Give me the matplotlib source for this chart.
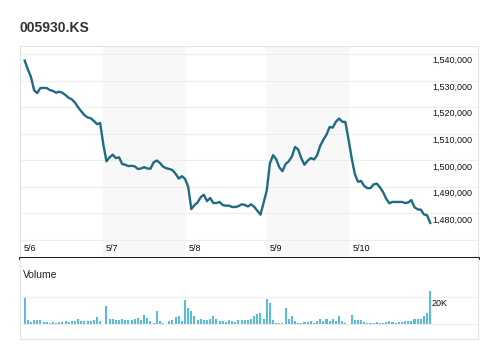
import matplotlib
matplotlib.use("Agg")
import matplotlib.pyplot as plt
import matplotlib.transforms as mtransforms
import numpy as np

plt.rcParams['font.family'] = ['Liberation Sans', 'DejaVu Sans']

# --- data (15-min style intraday slots, 5 trading days) ---
ticker = "005930.KS"
day_labels = ["5/6", "5/7", "5/8", "5/9", "5/10"]
day_starts = [-1.2, 24.9, 51.3, 76.8, 103.2]   # slot index where each day begins
day_end = 129.9

price = [
    1537500, 1534200, 1531300, 1526300, 1525300, 1527200, 1527200, 1527200, 1526400, 1526100,
    1525400, 1525800, 1525400, 1524500, 1523500, 1522900, 1521700, 1519900, 1518400, 1517000,
    1516100, 1515800, 1514800, 1513600, 1514000, 1506000, 1499600, 1501100, 1502100, 1500800,
    1501100, 1498600, 1498300, 1497800, 1497900, 1497700, 1496700, 1496900, 1497400, 1496900,
    1496800, 1499200, 1499900, 1499000, 1497600, 1497000, 1496700, 1496300, 1494900, 1493100,
    1494000, 1493000, 1490000, 1481600, 1483100, 1484100, 1486100, 1487000, 1484600, 1485800,
    1483900, 1483900, 1484300, 1483100, 1482900, 1482900, 1482400, 1482400, 1482700, 1483400,
    1483200, 1482600, 1483400, 1482500, 1481000, 1479500, 1484000, 1488600, 1498800, 1501900,
    1500400, 1497300, 1495900, 1498600, 1499600, 1501400, 1505000, 1504000, 1500700, 1498300,
    1499800, 1500800, 1500300, 1501800, 1505400, 1507700, 1509600, 1512500, 1512300, 1514500,
    1515700, 1514500, 1514400, 1507900, 1500900, 1494900, 1491900, 1492200, 1490300, 1489500,
    1489500, 1490900, 1491200, 1489800, 1488000, 1485500, 1483800, 1484300, 1484300, 1484300,
    1484300, 1483900, 1484100, 1485000, 1482300, 1481500, 1481400, 1479600, 1479300, 1476400,
]

volume = [
    19100, 3100, 1900, 3100, 3100, 3100, 1700, 1500, 1000, 1500,
    1000, 1500, 1500, 2200, 1700, 2200, 2200, 3600, 2200, 2400,
    2400, 2400, 3400, 5600, 2200, 0, 13300, 3600, 4100, 3100,
    2900, 3600, 2900, 3400, 2900, 3600, 4800, 2900, 6500, 4800,
    2400, 1000, 9700, 2200, 1200, 500, 2400, 3100, 5300, 6000,
    2700, 17600, 11800, 9900, 6000, 3100, 4100, 2900, 3100, 4100,
    6000, 3600, 2200, 2700, 1900, 3100, 2700, 1900, 3100, 3100,
    3100, 3100, 3600, 6000, 7500, 8500, 3600, 18600, 15200, 3100,
    1200, 1200, 1200, 11800, 4100, 6000, 2200, 1200, 1200, 1700,
    1700, 2200, 1200, 2200, 3600, 2700, 3600, 2200, 3600, 2700,
    6000, 2200, 1200, 0, 6500, 3100, 3100, 3100, 1700, 1200,
    1200, 700, 1700, 1200, 1200, 1700, 2200, 1700, 1200, 1900,
    1900, 2700, 2200, 2700, 4100, 4100, 4100, 6000, 8000, 24400,
]

price_ticks = [1540000, 1530000, 1520000, 1510000, 1500000, 1490000, 1480000, 1470000]
price_labels = ["1,540,000", "1,530,000", "1,520,000", "1,510,000",
                "1,500,000", "1,490,000", "1,480,000"]
vol_ticks = [0, 20000]

slots = np.arange(len(price))

W, H = 497, 359
fig = plt.figure(figsize=(W / 100, H / 100), dpi=100)
fig.patch.set_facecolor("white")

line_col = "#1f6b84"
bar_col = "#56bde0"
grid_col = "#ededed"
frame_col = "#e3e3e3"
xlim = (-1.5, 144.2)

# price panel
ax = fig.add_axes([20 / W, (H - 258) / H, 458 / W, (258 - 46) / H])
ax.set_xlim(*xlim)
ax.set_ylim(1463200, 1543000)
for i in (1, 3):
    ax.axvspan(day_starts[i], day_starts[i + 1], color="#f8f8f8", lw=0, zorder=0)
for t in price_ticks:
    ax.axhline(t, color=grid_col, lw=0.8, zorder=1)
ax.plot(slots, price, color=line_col, lw=1.7, zorder=3, solid_joinstyle="round")

trans = mtransforms.blended_transform_factory(ax.transAxes, ax.transData)
for t, lab in zip(price_ticks, price_labels):
    ax.annotate(lab, xy=(0.987, t), xycoords=trans, xytext=(0, -1.5),
                textcoords="offset points", ha="right", va="top",
                fontsize=6.5, color="#111111")

trans_d = mtransforms.blended_transform_factory(ax.transData, ax.transAxes)
for d, lab in zip(day_starts, day_labels):
    ax.text(d + 1.0, 0.047, lab, transform=trans_d, ha="left", va="center",
            fontsize=6.5, color="#111111")

ax.set_xticks([])
ax.set_yticks([])
for s in ("left", "right", "top"):
    ax.spines[s].set_color(frame_col)
    ax.spines[s].set_linewidth(0.8)
ax.spines["bottom"].set_color("black")
ax.spines["bottom"].set_linewidth(2.0)
ax.spines["bottom"].set_zorder(5)

# volume panel
vax = fig.add_axes([20 / W, (H - 339) / H, 458 / W, (339 - 258) / H])
vax.set_xlim(*xlim)
vax.set_ylim(-10650, 48040)
for t in vol_ticks:
    vax.axhline(t, color=grid_col, lw=0.8, zorder=1)
vax.bar(slots, volume, width=0.65, color=bar_col, zorder=2)
vax.annotate("20K", xy=(129.3, 20000), xycoords="data", xytext=(0, -1.5),
             textcoords="offset points", ha="left", va="top",
             fontsize=6.5, color="#111111")
vax.text(0.007, 0.79, "Volume", transform=vax.transAxes, ha="left", va="center",
         fontsize=7.5, color="#222222")
vax.set_xticks([])
vax.set_yticks([])
for s in ("left", "right", "bottom"):
    vax.spines[s].set_color(frame_col)
    vax.spines[s].set_linewidth(0.8)
vax.spines["top"].set_visible(False)

fig.text(20 / W, 1 - 28 / H, ticker, ha="left", va="center",
         fontsize=10, fontweight="bold", color="#333333")

fig.savefig("out.png", dpi=100)
